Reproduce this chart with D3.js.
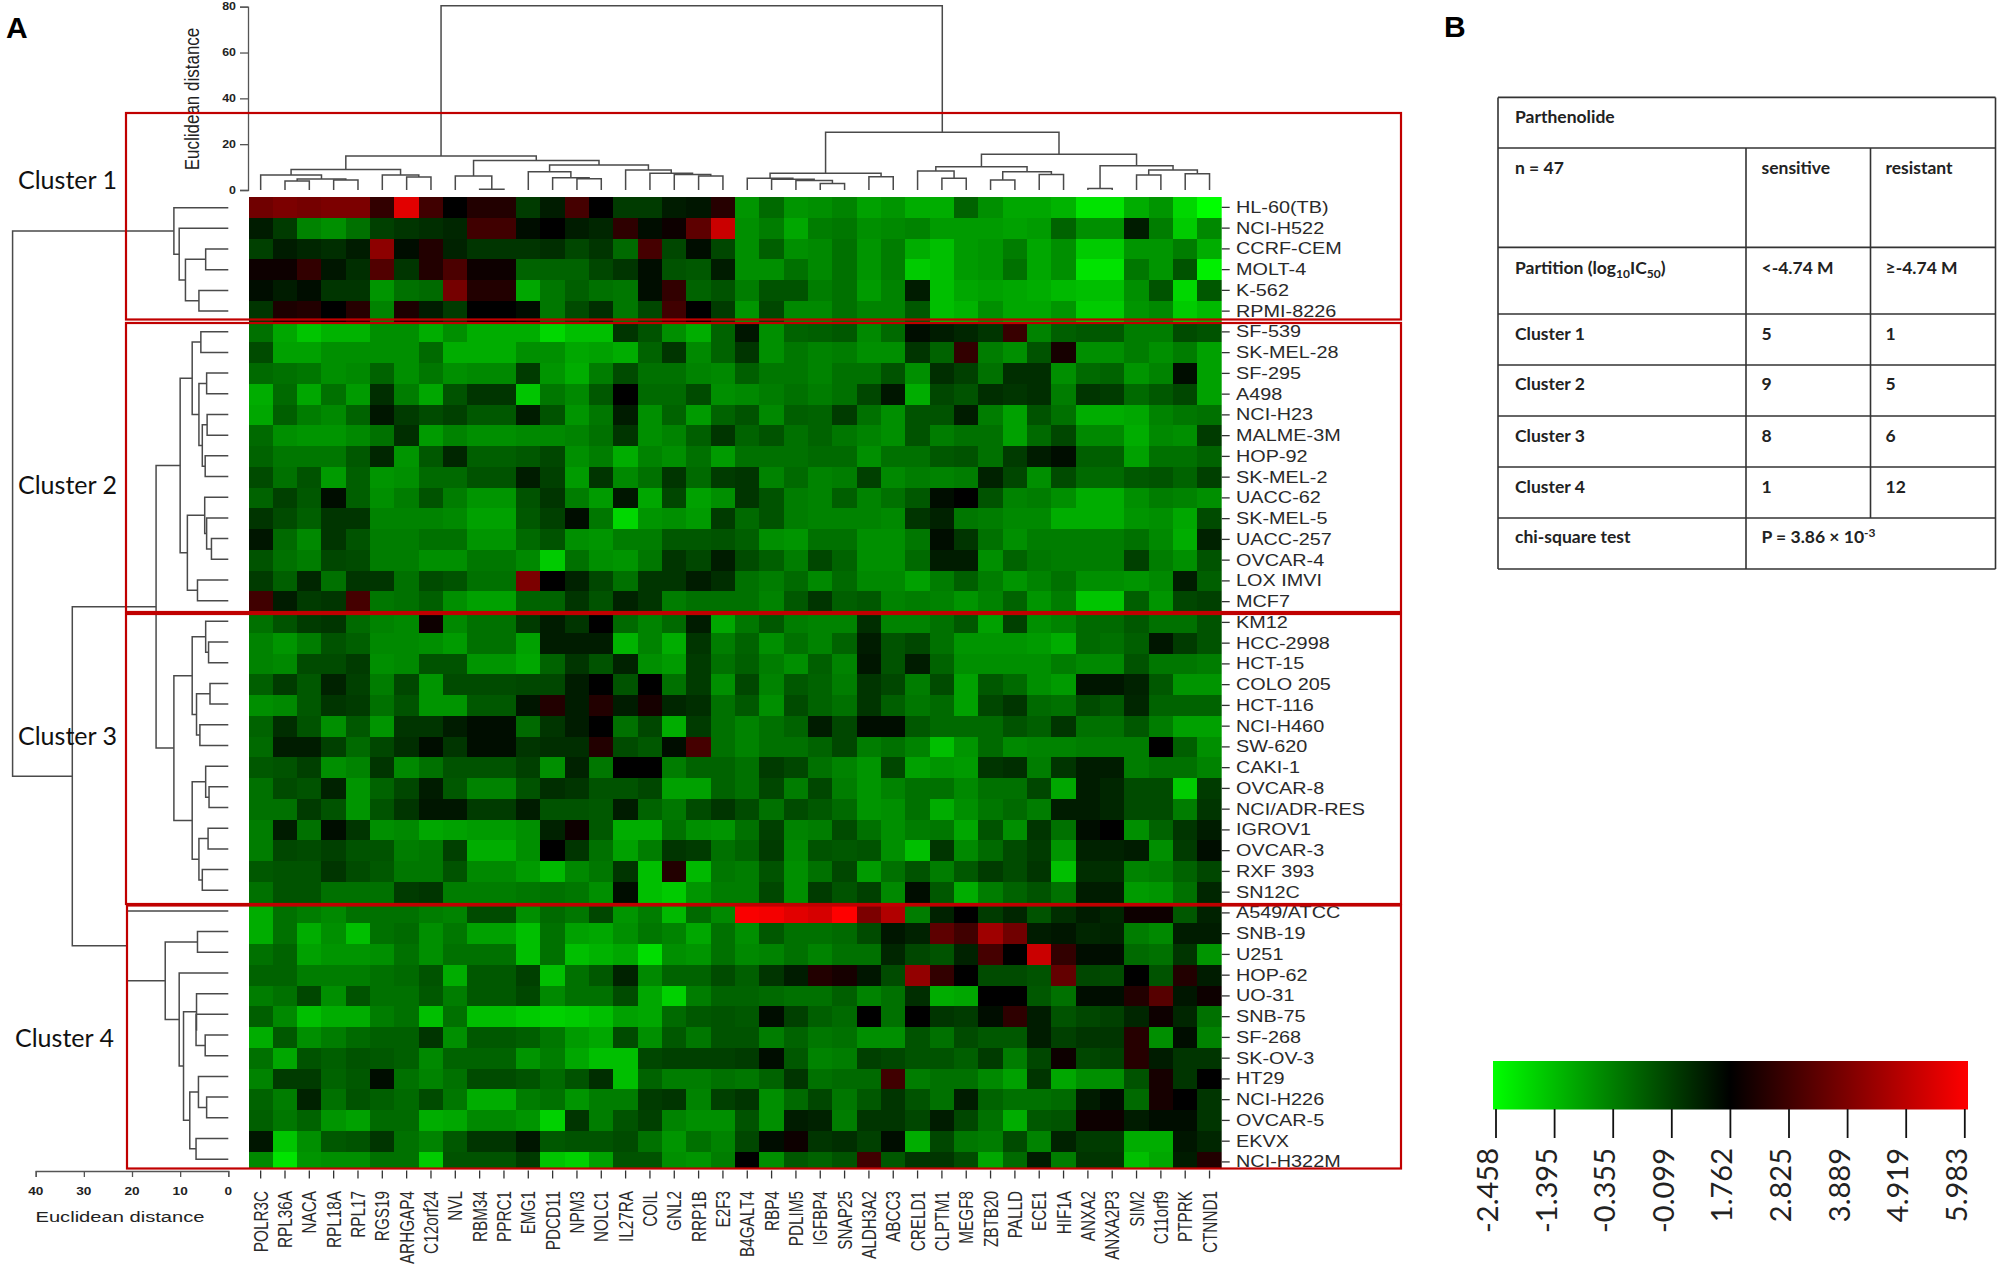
<!DOCTYPE html>
<html><head><meta charset="utf-8">
<script src="https://cdnjs.cloudflare.com/ajax/libs/d3/7.8.5/d3.min.js"></script>
<style>html,body{margin:0;padding:0;background:#fff}svg{display:block}</style>
</head><body><svg id="c" width="2001" height="1270"></svg>
<script>
const cellLines = ["HL-60(TB)","NCI-H522","CCRF-CEM","MOLT-4","K-562","RPMI-8226","SF-539","SK-MEL-28","SF-295","A498","NCI-H23","MALME-3M","HOP-92","SK-MEL-2","UACC-62","SK-MEL-5","UACC-257","OVCAR-4","LOX IMVI","MCF7","KM12","HCC-2998","HCT-15","COLO 205","HCT-116","NCI-H460","SW-620","CAKI-1","OVCAR-8","NCI/ADR-RES","IGROV1","OVCAR-3","RXF 393","SN12C","A549/ATCC","SNB-19","U251","HOP-62","UO-31","SNB-75","SF-268","SK-OV-3","HT29","NCI-H226","OVCAR-5","EKVX","NCI-H322M"];
const genes = ["POLR3C","RPL36A","NACA","RPL18A","RPL17","RGS19","ARHGAP4","C12orf24","NVL","RBM34","PPRC1","EMG1","PDCD11","NPM3","NOLC1","IL27RA","COIL","GNL2","RRP1B","E2F3","B4GALT4","RBP4","PDLIM5","IGFBP4","SNAP25","ALDH3A2","ABCC3","CRELD1","CLPTM1","MEGF8","ZBTB20","PALLD","ECE1","HIF1A","ANXA2","ANXA2P3","SIM2","C11orf9","PTPRK","CTNND1"];
const expression = [
[3.6,3.8,3.7,3.8,3.8,2.6,5.5,2.8,1.8,2.3,2.3,.8,1.3,2.9,1.8,.8,.8,1.3,1.4,2.4,-.7,0,-.7,-.6,-.4,-.9,-.7,-1.1,-1.1,.1,-.6,-1,-1,-1.2,-2,-2,-1.1,-.7,-1.8,-2.46],
[1.3,.8,-.4,-.6,-.1,.7,.9,1,1.1,2.8,2.8,1.5,1.7,1.3,1.1,2.5,1.5,2,3.3,5.1,-.6,-.3,-1,-.3,-.2,-.6,-.5,-.4,-.8,-.8,-.8,-.9,-.8,.1,-.6,-.6,1.3,-.3,-1.6,-.5],
[.7,1.3,1.1,1,1.3,4.1,1.6,2.3,1.2,.9,.9,.9,1,.6,.9,0,2.9,.6,1.5,.6,-.6,.2,-.6,-.5,-.1,-.7,-.3,-1.1,-1.4,-.8,-.7,-.3,-1,-.6,-1.6,-1.6,-.7,-.7,-.3,-1.1],
[1.9,2,2.6,1.4,1,3.1,.9,2.3,3,1.9,1.9,.1,.1,.1,.6,.9,1.5,.4,.3,1.3,-.6,-.6,-.1,-.5,-.1,-.7,-.3,-1.6,-1.4,-.8,-.7,-.1,-1,-.6,-2,-2,-.2,-.7,.4,-2.2],
[1.5,1.3,1.6,.9,.9,-.7,-.1,0,3.7,2.3,2.3,-1,-.2,.2,-.1,-.2,1.6,2.6,.1,.4,-.3,.4,.4,-.3,-.1,-.8,-.4,1.3,-1.4,-1,-.9,-1,-1.1,-1.3,-1.4,-1.4,-.6,.4,-1.8,.3],
[.9,2.2,2.3,1.85,2.4,-.4,2.2,1.3,.8,1.85,1.85,1.5,-.2,.5,1,-.2,.6,2.8,1.8,.8,-.7,.6,-.5,-.5,-.1,-.4,-.4,.3,-1.4,-1.2,-.6,-1,-1,-.7,-1.6,-1.6,-.7,-.5,-1.6,-1.3],
[-.1,-1,-1.5,-1.2,-1.2,-.6,-.6,-1.1,-.6,-1.1,-1.1,-1.1,-1.8,-1.4,-1.4,.9,.4,-.6,-1.1,.1,1.4,-.6,.1,.2,.3,-.5,0,1.6,1.3,1.1,.9,2.7,-.4,.2,.3,.3,-.3,-.3,.5,.4],
[.5,-.9,-.9,-.6,-.6,-.6,-.6,0,-1.1,-1.1,-1.1,-.6,-.6,-1,-.9,-1.1,.1,.9,-.5,.1,.9,-.6,-.2,-.4,-.3,-.6,-.6,.9,.1,2.6,-.3,-.6,.4,2.1,-.6,-.6,-.3,-.6,-.3,-.9],
[0,-.1,-.2,-.6,-.5,.1,-.6,-.2,-.6,-.5,-.5,.8,-.7,-1.1,-.3,.5,-.1,-.1,-.4,-.5,.2,-.2,-.2,-.4,-.1,-.1,.4,-.6,1,.7,-.1,1,1,-.6,0,.1,-.7,-.4,1.5,-.9],
[-1.1,0,-1,-.1,-.8,1,-.3,-1,.4,.9,.9,-1.5,-.2,-.5,.3,1.75,0,0,.5,-.6,-.5,-.3,-.1,-.3,-.1,.6,1.4,-1.1,.6,.4,1,.9,1,-.3,.9,.8,0,.3,.6,-.9],
[-1,.2,-.3,-.5,.1,1.4,.8,.5,.7,.3,.3,1.3,.4,-.7,-.2,1.3,-.6,.1,-.8,.1,.4,-.5,.2,.1,.8,-.1,-.6,.4,.4,1.3,-.3,-.9,.4,-.1,-1.1,-1.1,-1,-.4,-.2,-.1],
[0,-.6,-.7,-.7,-.5,-.1,1,-.8,-.4,-.6,-.6,-.5,-.5,-.4,-.1,.9,-.6,-.4,.2,.9,.1,.4,-.1,.1,-.2,-.4,-.6,.4,-.3,-.1,-.1,-.9,0,.6,-.5,-.5,-1.1,-.5,-.6,.8],
[.1,-.2,-.2,-.2,.3,1.1,-.7,.3,1.1,.2,.2,.3,.6,-.6,-.3,-1.1,-.4,-.6,-.1,-.8,-.1,-.1,-.1,0,0,-.6,-.1,-.1,.3,.4,-.1,.8,1.3,1.5,.2,.2,-.9,-.1,-.1,.1],
[.5,-.1,.4,-.8,.2,-.7,-.6,0,0,.4,.4,1.3,.7,-.8,.9,-.5,-.1,.9,0,.8,.9,-.4,0,-.4,-.3,.7,-.5,-.3,-.4,-.3,1.2,.6,-.6,.5,0,0,.3,.4,.1,.7],
[.1,.7,.3,1.6,.2,-.6,-.3,.4,-.3,-.7,-.7,.4,.9,-.3,-.8,1.4,-1,.6,-.9,-.6,.9,.4,-.3,-.4,.2,-.4,-.1,.3,1.5,1.7,.4,-.4,-.3,-.6,-1.1,-1.1,-.6,-.3,-.4,-.6],
[.9,.5,.2,.9,.9,-.4,-.4,-.4,-.5,-.9,-.9,.3,.7,1.5,-.2,-1.8,-.7,-.6,-.8,.8,0,.4,-.3,-.4,-.4,-.4,-.5,.9,1.2,-.2,-.3,-.5,-.5,-1.1,-1.1,-1.1,-.7,-.6,-1,.5],
[1.4,0,-.5,.9,.4,-.3,-.3,-.1,-.1,-.7,-.7,0,.4,-.6,-.7,-.3,-.3,.3,.3,.4,.2,-.6,-.7,-.1,-.1,-.6,-.6,-.2,1.5,.9,-.1,-.6,-.3,-.3,-.3,-.3,-.1,-.5,-1.1,1.2],
[.4,-.1,-.3,.6,.5,-.3,-.3,-.6,-.6,-.2,-.2,-.5,-1.6,-.1,-.6,-.7,-.2,.9,.6,1.3,.5,.2,-.3,.6,.1,-.6,-.6,0,1.3,1.3,-.6,.1,-.2,-.3,-.3,-.3,.7,-.3,-.6,.4],
[.8,.2,1.1,-.1,.9,.9,-.1,.5,.4,-.1,-.1,3.8,1.75,1.2,.6,-.1,.9,.9,1.3,1,-.1,-.3,0,-.5,0,-.5,-.5,-.9,-.3,.2,-.3,-.7,-.4,-.1,-.6,-.6,-.7,-.5,1.3,.2],
[2.8,1.3,.8,.9,2.9,-.2,-.1,.2,-.6,-.9,-.9,.1,.1,.9,.4,1.2,.9,-.3,-.1,-.1,-.1,-.4,.3,.9,.2,.3,-.4,-.3,-.4,-.7,-.4,.1,-.7,-.3,-1.5,-1.5,.2,-.7,.6,.7],
[-.1,.4,.8,.9,0,-.4,-.5,2,-.5,-.1,-.1,.8,1.3,.9,1.75,0,-.4,0,1.3,-1,-.2,.3,-.3,-.4,-.4,1,-.4,-.4,-.1,.3,-.9,.7,-.6,-.4,0,0,.3,-.1,-.1,.4],
[-.4,-.7,-.3,.4,.2,-.5,-.5,-.6,-.8,-.1,-.1,-.9,1.3,1.3,1.3,-1.2,-.4,-1.1,.9,-.3,.1,-.6,-.1,-.4,.1,1.3,.4,.6,-.1,-.7,-.7,-.7,-.8,-1.1,0,-.1,.2,1.4,.8,.4],
[-.4,-.5,.5,.5,.8,-.6,-.5,.4,.4,-.7,-.7,-1,.1,.9,.4,1.2,-.6,-.8,.8,-.1,.2,-.3,-.6,.2,-.4,1.4,.4,1.3,.1,-.6,-.6,-.6,-.6,-.3,-.5,-.5,.4,-.2,-.2,-.3],
[.2,.8,.3,1.2,.7,-.3,.6,-.7,.5,.5,.5,.6,.6,1.3,1.85,.4,1.8,-.1,.8,-.6,.6,-.4,.3,.1,-.3,.9,.6,-.3,.5,-.9,.3,0,-.6,-.8,1.4,1.4,1.2,.3,-.7,-.7],
[-.6,-.5,.3,.9,.8,-.1,.4,-.7,-.7,.3,.3,1.4,2.3,1.3,2.3,1.3,2.1,1.1,1,-.1,.3,-.6,.5,.1,-.1,.9,.2,-.2,0,-.9,.6,.9,0,-.1,.5,.3,1.1,.1,.1,.1],
[.1,1,.4,-.6,.3,-.7,.9,.9,1.3,1.5,1.5,0,.9,1.3,1.85,-.1,.6,-1.1,.8,-.1,-.4,-.1,.1,1.3,.6,1.5,1.5,.3,0,0,0,.4,.2,.9,-.1,-.1,.3,-.3,-.9,-.9],
[0,1.3,1.3,.7,0,.6,1,1.6,.9,1.5,1.5,.9,1,1,2.3,.5,.3,1.6,2.9,-.1,-.4,-.1,-.1,.1,.6,-.3,-.1,-.4,-1.4,-.7,0,-.5,-.4,-.4,-.3,-.3,-.3,1.75,.2,-.6],
[.3,.4,.7,-.6,-.4,.9,-.5,-.1,.4,.4,.4,.7,-.6,1.2,-.2,1.75,1.75,-.3,.1,.1,-.1,.8,.6,-.1,-.4,-.7,.6,-.9,-.7,-.8,.9,1,-.3,.9,1.3,1.3,-.3,-.1,-.1,-.4],
[-.1,.5,.4,1.2,-.7,.1,.6,1.3,.3,-.4,-.4,.4,1,.9,.4,.4,.6,-.9,-.9,.1,-.1,.6,-.3,.6,-.3,-.7,-.4,-.1,-.1,-.5,-.1,-.1,.6,-1,1.3,1.1,.5,.5,-1.6,.8],
[-.1,-.1,.8,.4,-.7,.4,.9,1.4,1.4,.8,.8,1.3,.4,.4,.3,1.3,.1,-.2,.5,.9,.5,-.1,.5,.3,0,-.7,-.6,-.1,-1.1,-.6,-.2,0,-.3,1.3,1.3,1.1,.5,.5,-.3,.9],
[-.3,1.3,-.1,1.5,.9,-.6,-.5,-1,-.9,-.8,-.8,-.6,1.2,1.9,.3,-1.1,-1.1,-.1,-.6,-.7,-.1,.7,-.4,-.3,.5,-.1,-.6,-.3,-.2,-1,.4,-.6,.9,-.1,1.5,1.7,-.6,.1,.9,1.3],
[-.3,.6,.5,.7,.4,.4,-.3,-.2,.7,-1.1,-1.1,-.6,1.7,.9,-.1,-.9,-.3,.9,.8,-.1,.1,.8,-.5,.4,.3,.4,-.6,-1.4,.9,-.5,0,.5,.8,-.7,1.2,1.2,1.3,-.6,.8,1.6],
[.3,.4,.4,.9,.5,.3,-.2,-.2,.4,-.5,-.5,-.8,-1.3,-.5,-.2,.9,-1.4,2.3,-1.3,-.2,-.3,.4,-.6,-.1,.6,-.8,-.1,.4,-.3,.3,.8,.5,.9,-1.4,1,1,-.4,-.3,.1,.6],
[-.1,.4,.4,-.1,-.1,-.1,.8,.9,-.3,-.3,-.3,-.2,-.1,-.2,-.6,1.5,-1.4,-1.6,-.7,-.3,-.3,.6,-.6,.8,.4,.7,-.5,1.6,.3,-1.1,-.3,.1,.4,-.1,1.3,1.3,-.8,-.7,-.1,1.1],
[-1.1,-.1,-.3,-.5,-.1,-.1,-.1,-.3,-.4,.5,.5,-.6,0,-.2,.6,-.7,-.3,-1.3,0,-.5,5.9,5.8,5.5,5.3,6,3.8,4.7,-.3,1.2,1.8,.8,1.1,.4,1,1.3,1.1,1.9,1.9,.3,1.2],
[-1.1,-.1,-1.1,-.6,-1.4,-.1,0,-.6,-.2,-.9,-.9,-1.4,-.1,-.9,-1,-.6,-.2,-.4,-1,-.1,-.6,.3,-.1,-.1,0,.5,1.4,1.2,3.3,2.8,4.4,3.6,1.3,1.4,1.1,1.2,-.3,-.5,1.3,1.3],
[-.1,.1,-.9,-.7,-.7,-.6,-.1,-.6,-.1,-.1,-.1,-1.4,-.1,-1.4,-1.2,-1,-1.9,-.6,-.7,-.1,-.5,-.4,-.1,-.4,-.1,-.1,1.1,.6,.4,1.2,2.9,1.8,5.1,2.6,1.5,1.5,0,-.1,.9,-.7],
[.1,.1,-.3,-.3,-.3,-.1,0,.4,-1.1,.3,.3,.7,-1.4,-.1,.3,1.2,-.5,.1,.1,.5,.2,.9,1.3,2.3,2.1,1.4,.5,4.2,2.6,1.8,.5,.5,.4,3.4,.6,.5,1.8,.4,2.3,1.3],
[-.3,-.1,.6,-.6,.4,-.1,-.1,.3,-.3,.3,.3,.6,-.5,-.1,-.1,.5,-1,-1.7,-.3,.1,.1,0,-.1,-.1,.2,-.4,-.1,1,-1.1,-1,1.8,1.7,.3,-.1,1.5,1.5,2.3,3.2,1.4,1.9],
[.2,-.5,-1.4,-1.1,-1.1,-.3,-.1,-1.4,-.1,-1.4,-1.4,-1.6,-1.7,-1.6,-1.4,-.9,-1,0,.3,.4,.3,1.6,.7,.2,0,1.8,-.1,1.8,.9,.8,1.5,2.5,1.3,.4,.6,.7,1.1,2,1.1,-.1],
[-1.1,.3,-.6,-.3,0,.2,.2,.9,-.6,.3,.3,.2,-.2,-.8,-1,.5,-.6,.3,-.2,.4,.4,-.3,.1,-.2,-.1,-.6,-.6,.4,-.1,.5,.3,.3,1.3,.7,.9,.9,2.4,-.6,1.5,-.4],
[-.1,-1,.4,.2,.4,.3,.2,-.5,.1,.1,.1,-.7,-.3,-1,-1.4,-1.4,.6,.7,.7,.7,.8,1.5,.3,-.4,-.3,.7,.6,.4,.4,.2,.8,-.3,.6,1.9,.6,.7,2.4,1.3,.9,.9],
[-.4,.8,.8,.1,.3,1.6,-.1,-.4,-.1,.5,.5,.4,0,.4,1,-1.4,.1,-.3,-.3,-.1,-.2,.1,.9,-.1,0,0,2.8,-.3,-.1,-.1,-.5,-.9,.9,-1,-.6,-.6,.4,2.1,.9,1.8],
[.1,-.3,1.2,-.1,.4,.2,0,.5,-.2,-1.1,-1.1,-.3,-.1,-.7,-.3,-.3,.8,.9,-.4,.7,.9,-.6,0,.6,-.2,.3,.9,.4,-.1,1.3,.1,-.1,-.1,0,1.3,1.5,0,2.1,1.7,.9],
[.2,-.2,.1,-.7,-.9,0,0,-1.1,-1,-.5,-.5,-.7,-1.7,.9,-.3,.4,.7,-.4,-.6,-.6,.4,-.6,1.3,1.2,-.3,.9,.9,.6,1.3,.6,-.1,-1.1,.3,.4,1.9,1.9,1.3,1.6,1.5,.9],
[1.4,-1.5,-.6,.3,.4,.9,-.1,-.4,.3,.9,.9,1.4,.3,.4,.4,.5,-.1,-.7,-.1,-.4,.6,1.6,2,.9,1,.7,1.5,-1.1,.6,-.2,-.3,.5,-.4,1.2,.8,.8,-1.1,-1.1,1.4,1.1],
[-.5,-2,-.7,-.6,-.6,-.1,-.1,-1.6,.4,.4,.4,.8,-1.5,-1.7,-.9,.4,.4,-.6,-.7,-.3,1.75,-.6,.3,.1,.4,2.8,.3,.9,.9,.5,-1,0,1.3,-.3,.9,.9,-1.4,-1,1.3,2.3]
];
// Dendrograms: [merge height, child, child]; a plain number is a leaf index.
const rowCluster1 = [11.3,0,[10.2,1,[8.9,[4.7,2,3],[6.1,4,5]]]];
const rowCluster2 = [10,[7.5,[5.7,6,7],[6.1,[4.5,8,9],[5.4,[4.4,10,11],[4.8,12,13]]]],[8.5,[4.9,14,[4.5,15,[3.5,16,17]]],[6.4,18,19]]];
const rowCluster3 = [11.3,[7.5,[4.7,20,[4.1,21,22]],[6.6,[3.8,23,24],[5.9,25,26]]],[7.5,[4.7,27,[4,28,29]],[6.1,[4.2,30,31],[5.4,32,33]]]];
const rowCluster4 = [21,34,[13.1,[6.4,35,36],[10.2,37,[9.3,[6.6,38,[6.7,39,[4.8,40,41]]],[8,[6.2,42,[4.5,43,44]],[6.7,45,46]]]]]];
const rowTree = [44.8,rowCluster1,[32.4,[15,rowCluster2,rowCluster3],rowCluster4]];
const colLeft = [14.8,[8.9,[6.5,0,[4.8,[3.9,1,2],[4.4,3,4]]],[6.5,5,[5.7,6,7]]],[12.9,[6.1,8,[0.3,9,10]],[10.9,[8,11,[5.4,12,[4.9,13,14]]],[8.7,15,[7.3,16,[6.8,17,[6.1,18,19]]]]]]];
const colRight = [25.2,[7.3,[5.1,20,[4.7,21,[4.1,22,[2.8,23,24]]]],[5.8,25,26]],[15.6,[10.2,[8.3,27,[5.1,28,29]],[8,[4.4,30,31],[6.8,32,33]]],[10.6,[0.7,34,35],[8.7,[6.5,36,37],[7.1,38,39]]]]];
const colTree = [80.4,colLeft,colRight];
const rowAxisTicks = [0,10,20,30,40];
const colAxisTicks = [0,20,40,60,80];
const clusterNames = ["Cluster 1","Cluster 2","Cluster 3","Cluster 4"];
const legendLabels = ["-2.458","-1.395","-0.355","-0.099","1.762","2.825","3.889","4.919","5.983"];
const tableHead = ["Parthenolide"];
const tableCol1 = ["n = 47","Partition","Cluster 1","Cluster 2","Cluster 3","Cluster 4","chi-square test"];
const tableSensitive = ["sensitive","<-4.74 M","5","9","8","1"];
const tableResistant = ["resistant","≥-4.74 M","1","5","6","12"];

const svg = d3.select("#c");
svg.append("rect").attr("width",2001).attr("height",1270).attr("fill","#fff");
const color = d3.scaleLinear().domain([-2.458,1.762,5.983]).range(["#00ff00","#000000","#ff0000"]);
const x = d3.scaleBand().domain(genes).range([248.5,1221.7]);
const y = d3.scaleBand().domain(cellLines).range([197,1172.3]);
const yLeaf = d3.scaleBand().domain(cellLines).range([197.3,1169.5]);
const SX = 1.24; // the source picture is stretched horizontally
const sans = "'Liberation Sans',Arial,sans-serif";
const cal = "Lato,'Noto Sans',sans-serif";
const defs = svg.append("defs");
defs.append("clipPath").attr("id","hm").append("rect").attr("x",248.5).attr("y",197).attr("width",973.2).attr("height",971.5);
defs.append("filter").attr("id","soft").attr("x","-1%").attr("y","-1%").attr("width","102%").attr("height","102%")
  .append("feGaussianBlur").attr("stdDeviation",0.5);

// heatmap
const g = svg.append("g").attr("clip-path","url(#hm)").append("g").attr("shape-rendering","crispEdges").attr("filter","url(#soft)");
expression.forEach((row,i)=>{
  g.selectAll(null).data(row).join("rect")
   .attr("x",(d,j)=>x(genes[j])).attr("y",y(cellLines[i]))
   .attr("width",x.bandwidth()+.5).attr("height",y.bandwidth()+.5).attr("fill",d=>color(d));
});

// dendrograms
function tree(data,f){
  const r = d3.hierarchy(data,d=>Array.isArray(d)?d.slice(1):null);
  r.eachAfter(n=>{
    n.h = n.children? n.data[0]:0;
    n.c = n.children? (n.children[0].c+n.children[1].c)/2 : f(n.data);
  });
  return r;
}
const rowDist = d3.scaleLinear().domain([0,40]).range([228.3,35.7]);
const colDist = d3.scaleLinear().domain([0,80]).range([190,6.7]);
const rT = tree(rowTree,i=>yLeaf(cellLines[i])+yLeaf.bandwidth()/2);
const cT = tree(colTree,j=>x(genes[j])+x.bandwidth()/2);
const dn = svg.append("g").attr("fill","none").attr("stroke","#4a4a4a").attr("stroke-width",1.5);
dn.selectAll("path.r").data(rT.descendants().filter(n=>n.children)).join("path").attr("class","r")
  .attr("d",n=>{const X=rowDist(n.h);const [a,b]=n.children;
    return `M${rowDist(a.h)},${a.c}H${X}V${b.c}H${rowDist(b.h)}`;});
dn.selectAll("path.c").data(cT.descendants().filter(n=>n.children)).join("path").attr("class","c")
  .attr("d",n=>{const Y=colDist(n.h);const [a,b]=n.children;
    return `M${a.c},${colDist(a.h)}V${Y}H${b.c}V${colDist(b.h)}`;});

// axes
const ax = svg.append("g").attr("transform","translate(0,1171)")
  .call(d3.axisBottom(rowDist).tickValues(rowAxisTicks).tickSize(6).tickFormat(""));
ax.selectAll("path,line").attr("stroke","#555").attr("stroke-width",1.3);
const ay = svg.append("g").attr("transform","translate(248,0)")
  .call(d3.axisLeft(colDist).tickValues(colAxisTicks).tickSize(8).tickFormat(""));
ay.selectAll("path,line").attr("stroke","#555").attr("stroke-width",1.3);
const small = (sel,fs)=>sel.attr("font-family",sans).attr("font-size",fs).attr("fill","#222");
small(svg.selectAll("text.rt").data(rowAxisTicks).join("text").attr("class","rt"),11).attr("font-weight","bold")
  .attr("text-anchor","middle").attr("transform",d=>`translate(${rowDist(d)},1195) scale(${SX},1)`).text(d=>d);
small(svg.selectAll("text.ct").data(colAxisTicks).join("text").attr("class","ct"),10).attr("font-weight","bold")
  .attr("text-anchor","end").attr("transform",d=>`translate(236,${colDist(d)+3.5}) scale(${SX},1)`).text(d=>d);
small(svg.append("text"),15.5).attr("text-anchor","middle").attr("transform",`translate(120,1222) scale(${SX+.06},1)`).text("Euclidean distance");
small(svg.append("text"),17).attr("text-anchor","middle").attr("transform",`translate(199,99) scale(${SX},1) rotate(-90)`).text("Euclidean distance");

// row and column labels
const ra = svg.append("g").attr("transform","translate(1221.7,0)").call(d3.axisRight(y).tickSize(8).tickFormat(""));
ra.selectAll("path").remove(); ra.selectAll("line").attr("stroke","#333").attr("stroke-width",1.3);
const ca = svg.append("g").attr("transform","translate(0,1170.5)").call(d3.axisBottom(x).tickSize(8).tickFormat(""));
ca.selectAll("path").remove(); ca.selectAll("line").attr("stroke","#333").attr("stroke-width",1.3);
small(svg.selectAll("text.rl").data(cellLines).join("text").attr("class","rl"),16).attr("fill","#2a2a2a")
  .attr("transform",d=>`translate(1236,${y(d)+y.bandwidth()/2+5.5}) scale(${SX},1)`).text(d=>d);
small(svg.selectAll("text.cl").data(genes).join("text").attr("class","cl"),15.3).attr("fill","#2a2a2a")
  .attr("text-anchor","end").attr("transform",d=>`translate(${x(d)+x.bandwidth()/2+7},1191) scale(1.3,1) rotate(-90)`).text(d=>d);

// cluster boxes
const boxY = [[113,319.5],[323,612],[614,904],[905.5,1168.5]];
const boxLeft = [126,126,126,127];
svg.selectAll("rect.b").data(boxY).join("rect").attr("class","b")
  .attr("x",(d,i)=>boxLeft[i]).attr("y",d=>d[0]).attr("width",(d,i)=>1401-boxLeft[i]).attr("height",d=>d[1]-d[0])
  .attr("fill","none").attr("stroke","#c00000").attr("stroke-width",2.2);
const clusterY=[189,494,745,1047], clusterX=[18,18,18,15];
svg.selectAll("text.cn").data(clusterNames).join("text").attr("class","cn")
  .attr("x",(d,i)=>clusterX[i]).attr("y",(d,i)=>clusterY[i]).attr("font-family",cal).attr("font-size",25).attr("fill","#111")
  .attr("textLength",99).attr("lengthAdjust","spacingAndGlyphs").text(d=>d);

// panel letters
svg.append("text").attr("x",6).attr("y",38).attr("font-family",sans).attr("font-weight","bold").attr("font-size",30).attr("fill","#000").text("A");
svg.append("text").attr("x",1444).attr("y",37).attr("font-family",sans).attr("font-weight","bold").attr("font-size",30).attr("fill","#000").text("B");

// table
const tY=[97.4,148,247.4,314,365,416,467,518,569], tX=[1498,1746,1870.5,1995.5];
const tb = svg.append("g").attr("stroke","#333").attr("stroke-width",1.6);
tY.forEach(v=>tb.append("line").attr("x1",tX[0]).attr("x2",tX[3]).attr("y1",v).attr("y2",v));
tb.append("line").attr("x1",tX[0]).attr("x2",tX[0]).attr("y1",tY[0]).attr("y2",tY[8]);
tb.append("line").attr("x1",tX[3]).attr("x2",tX[3]).attr("y1",tY[0]).attr("y2",tY[8]);
tb.append("line").attr("x1",tX[1]).attr("x2",tX[1]).attr("y1",tY[1]).attr("y2",tY[8]);
tb.append("line").attr("x1",tX[2]).attr("x2",tX[2]).attr("y1",tY[1]).attr("y2",tY[7]);
const base=[174,274,340,390,441.5,493,543];
const tt = (xx,yy,s)=>svg.append("text").attr("x",xx).attr("y",yy).attr("font-family",cal).attr("font-weight","bold").attr("font-size",17.5).attr("fill","#222").text(s);
tt(1515,123,tableHead[0]);
tableCol1.forEach((s,i)=>{const t=tt(1515,base[i],s);
  if(s==="Partition"){t.text("Partition (log");
    t.append("tspan").attr("dy",4).attr("font-size",12).text("10");
    t.append("tspan").attr("dy",-4).text("IC");
    t.append("tspan").attr("dy",4).attr("font-size",12).text("50");
    t.append("tspan").attr("dy",-4).text(")");}
});
tableSensitive.forEach((s,i)=>tt(1761.5,base[i],s));
tableResistant.forEach((s,i)=>tt(1885.5,base[i],s));
const pv=tt(1761.5,base[6],"P = 3.86 × 10");
pv.append("tspan").attr("dy",-6).attr("font-size",12).text("-3");

// legend
const grad = defs.append("linearGradient").attr("id","lg");
[-2.458,1.762,5.983].forEach((v,i)=>grad.append("stop").attr("offset",i/2).attr("stop-color",color(v)));
svg.append("rect").attr("x",1493).attr("y",1061).attr("width",475).attr("height",48.5).attr("fill","url(#lg)");
const lx = d3.scalePoint().domain(legendLabels).range([1496,1964.8]);
svg.selectAll("line.lt").data(legendLabels).join("line").attr("class","lt")
  .attr("x1",d=>lx(d)).attr("x2",d=>lx(d)).attr("y1",1109).attr("y2",1138).attr("stroke","#111").attr("stroke-width",1.8);
svg.selectAll("text.ll").data(legendLabels).join("text").attr("class","ll")
  .attr("text-anchor","end").attr("font-family",cal).attr("font-size",29).attr("fill","#222")
  .attr("transform",d=>`translate(${lx(d)+2},1148) rotate(-90)`).text(d=>d);
</script></body></html>
